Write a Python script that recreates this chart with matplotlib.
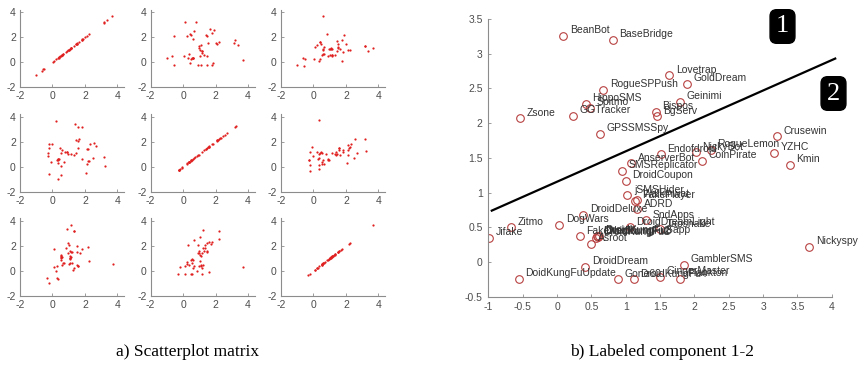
import matplotlib
matplotlib.use("Agg")
import matplotlib.pyplot as plt

plt.rcParams['font.family'] = ['Liberation Sans', 'DejaVu Sans']
plt.rcParams['axes.unicode_minus'] = False

# malware families and their first three components
names = ["BeanBot", "BaseBridge", "Lovetrap", "GoldDream", "RogueSPPush", "HippoSMS",
         "Spitmo", "Zsone", "GGTracker", "Bispos", "BgServ", "Geinimi", "GPSSMSSpy",
         "Crusewin", "YZHC", "Kmin", "Endofdroid", "NickyBot", "RogueLemon", "CoinPirate",
         "AnserverBot", "SMSReplicator", "DroidCoupon", "jSMSHider", "FakePlayer",
         "Walkinwat", "ADRD", "DroidDeluxe", "SndApps", "DroidDreamLight", "Tapsnake",
         "Zitmo", "Jifake", "DogWars", "FakeNetflix", "Asroot", "DroidKungFu1",
         "DroidKungFu2", "DroidKungFu3", "DroidKungFuSapp", "DroidDream",
         "DoidKungFuUpdate", "Gone60", "DroidKungFu4", "GingerMaster", "Plankton",
         "GamblerSMS", "Nickyspy"]
comp1 = [0.09, 0.81, 1.63, 1.89, 0.67, 0.42, 0.48, -0.54, 0.23, 1.44, 1.45, 1.79, 0.63,
         3.20, 3.16, 3.39, 1.51, 2.02, 2.24, 2.11, 1.08, 0.95, 1.00, 1.02, 1.14,
         1.16, 1.17, 0.38, 1.30, 1.06, 1.50, -0.67, -0.99, 0.03, 0.33, 0.50, 0.57,
         0.58, 0.60, 0.61, 0.41, -0.56, 0.89, 1.12, 1.50, 1.79, 1.85, 3.67]
comp2 = [3.26, 3.20, 2.69, 2.57, 2.48, 2.28, 2.22, 2.07, 2.11, 2.16, 2.10, 2.31, 1.85,
         1.81, 1.57, 1.40, 1.55, 1.58, 1.62, 1.46, 1.42, 1.31, 1.17, 0.96, 0.88,
         0.90, 0.76, 0.68, 0.60, 0.50, 0.47, 0.50, 0.35, 0.54, 0.37, 0.26, 0.35,
         0.37, 0.36, 0.38, -0.07, -0.24, -0.25, -0.25, -0.21, -0.24, -0.04, 0.22]
comp3 = [1.25, 2.24, 1.07, 2.19, 0.67, 1.60, 1.50, 0.27, 1.35, 1.70, 0.93, 1.79, 1.20,
         1.33, 1.30, 0.91, 1.50, 1.49, 0.95, 1.00, 1.15, 1.05, 1.10, 0.55, 0.60,
         0.50, 1.05, 0.25, 0.55, 1.10, 1.20, 0.37, -0.21, 0.24, 0.11, 0.60, 3.70,
         1.00, 0.70, 1.10, 1.60, -0.32, 0.50, 0.55, 1.17, 0.11, 0.85, 1.17]
comps = [comp1, comp2, comp3]

# separating line between region 1 and region 2
line_x = [-0.95, 4.05]
line_y = [0.74, 2.93]

grid_ticks = [-2, 0, 2, 4]
x_ticks = [-1, -0.5, 0, 0.5, 1, 1.5, 2, 2.5, 3, 3.5, 4]
y_ticks = [-0.5, 0, 0.5, 1, 1.5, 2, 2.5, 3, 3.5]

axis_gray = '#8c8c8c'
text_gray = '#4d4d4d'

fig = plt.figure(figsize=(8.59, 3.83), dpi=100)


def style_axes(ax, size, pad):
    for s in ['top', 'right']:
        ax.spines[s].set_visible(False)
    for s in ['left', 'bottom']:
        ax.spines[s].set_color(axis_gray)
        ax.spines[s].set_linewidth(0.8)
    ax.tick_params(direction='in', length=2, width=0.6, color=axis_gray,
                   labelcolor=text_gray, labelsize=size, pad=pad)


# a) scatterplot matrix
lefts = [0.0233, 0.1754, 0.3271]
bottoms = [0.772, 0.4995, 0.2272]
for i in range(3):
    for j in range(3):
        ax = fig.add_axes([lefts[j], bottoms[i], 0.1211, 0.2024])
        ax.plot(comps[i], comps[j], 'o', color='#e02020', markersize=1.6,
                markeredgewidth=0)
        ax.set_xlim(-2, 4.41)
        ax.set_ylim(-2, 4.2)
        ax.set_xticks(grid_ticks)
        ax.set_yticks(grid_ticks)
        style_axes(ax, 7.5, 3)

# b) labeled component 1-2
ax = fig.add_axes([0.5685, 0.2253, 0.3998, 0.7251])
ax.plot(comp1, comp2, 'o', markerfacecolor='none', markeredgecolor='#b84040',
        markersize=5.5, markeredgewidth=0.8)
for n, x, y in zip(names, comp1, comp2):
    ax.annotate(n, (x, y), xytext=(4.8, 4), textcoords='offset points',
                ha='left', va='center', fontsize=7.5, color='#333333')
ax.plot(line_x, line_y, color='black', linewidth=1.6, clip_on=False)
ax.set_xlim(-1, 4)
ax.set_ylim(-0.5, 3.5)
ax.set_xticks(x_ticks)
ax.set_xticklabels([f"{v:g}" for v in x_ticks])
ax.set_yticks(y_ticks)
ax.set_yticklabels([f"{v:g}" for v in y_ticks])
style_axes(ax, 7.5, 4)

for label, cx, cy in [("1", 782.5, 26.5), ("2", 833.5, 93.5)]:
    fig.text(cx / 859, 1 - cy / 383, label, ha='center', va='center',
             fontsize=19, color='white', family='Liberation Serif',
             bbox=dict(boxstyle='round,pad=0.22,rounding_size=0.25',
                       facecolor='black', edgecolor='black'))

fig.text(188 / 859, 1 - 352 / 383, "a) Scatterplot matrix", ha='center', va='center',
         fontsize=12.5, family='Liberation Serif')
fig.text(662 / 859, 1 - 352 / 383, "b) Labeled component 1-2", ha='center', va='center',
         fontsize=12.5, family='Liberation Serif')

fig.savefig("out.png", dpi=100)
